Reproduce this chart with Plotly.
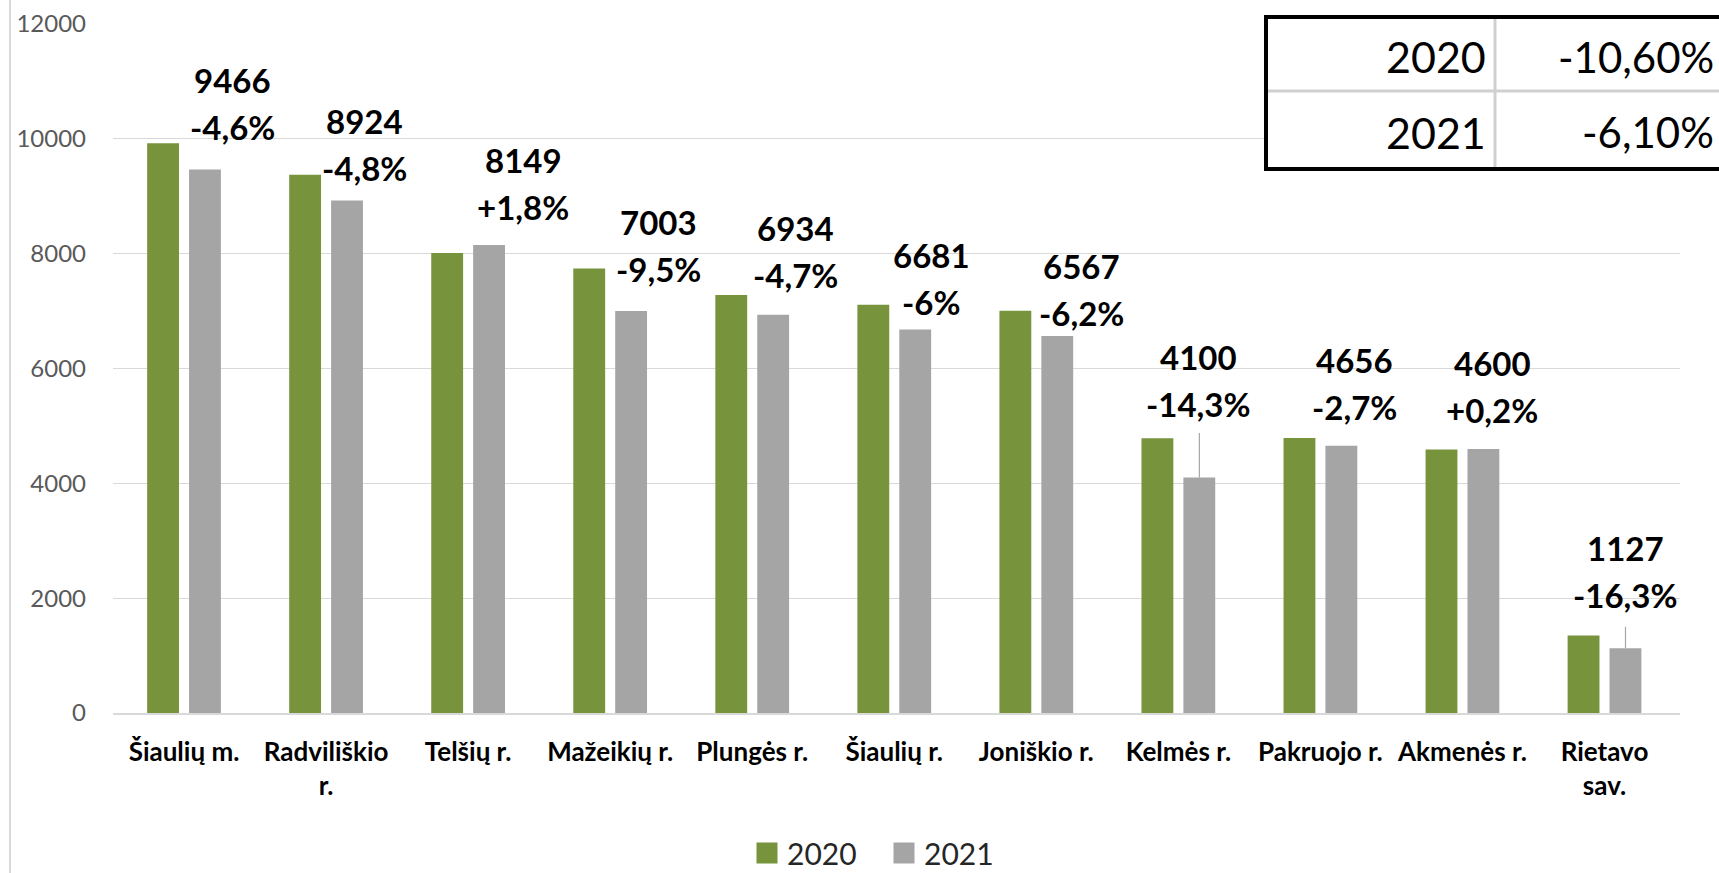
import plotly.graph_objects as go

# ---------------- data ----------------
categories = ["Šiaulių m.", "Radviliškio<br>r.", "Telšių r.", "Mažeikių r.", "Plungės r.",
              "Šiaulių r.", "Joniškio r.", "Kelmės r.", "Pakruojo r.", "Akmenės r.", "Rietavo<br>sav."]
series_names = ["2020", "2021"]
values_2020 = [9925, 9375, 8010, 7740, 7280, 7110, 7005, 4785, 4790, 4590, 1350]
values_2021 = [9466, 8924, 8149, 7003, 6934, 6681, 6567, 4100, 4656, 4600, 1127]
change_labels = ["-4,6%", "-4,8%", "+1,8%", "-9,5%", "-4,7%", "-6%", "-6,2%",
                 "-14,3%", "-2,7%", "+0,2%", "-16,3%"]
table_years = ["2020", "2021"]
table_changes = ["-10,60%", "-6,10%"]
y_ticks = [0, 2000, 4000, 6000, 8000, 10000, 12000]

# ---------------- styling ----------------
GREEN = "#77933C"
GRAY = "#A5A5A5"
FONT = "Lato"
W, H = 1719, 873
ML, MR, MT, MB = 113, 39, 24, 160
PW, PH = W - ML - MR, H - MT - MB

# label offsets (px) of the first label line, relative to the 2021 bar top centre
label_dx = [27, 17, 34, 27, 22, 16, 24, -1, 13, 9, 0]
label_dy = [-89, -80, -85, -89, -87, -74, -70, -121, -86, -86, -100]
LINE_GAP = 47
GRAY_SHIFT = 21  # px from category centre to 2021 bar centre
leader_len = {7: 46, 10: 23}


def px_x(p):
    return (p - ML) / PW


def px_y(p):
    return (H - MB - p) / PH


fig = go.Figure()
fig.add_trace(go.Bar(x=categories, y=values_2020, name=series_names[0],
                     marker=dict(color=GREEN, line=dict(width=0)), showlegend=False))
fig.add_trace(go.Bar(x=categories, y=values_2021, name=series_names[1],
                     marker=dict(color=GRAY, line=dict(width=0)), showlegend=False))
# legend entries with larger square symbols
for nm, col in zip(series_names, [GREEN, GRAY]):
    fig.add_trace(go.Scatter(x=[None], y=[None], mode="markers", name=nm,
                             marker=dict(symbol="square", size=16, color=col,
                                         line=dict(color=col, width=5)),
                             hoverinfo="skip"))

annotations = []
shapes = []
for i, cat in enumerate(categories):
    v = values_2021[i]
    annotations.append(dict(x=cat, y=v, xref="x", yref="y", text=f"{v}", showarrow=False,
                            xshift=GRAY_SHIFT + label_dx[i], yshift=-label_dy[i],
                            font=dict(family=FONT, size=33, color="#000000", weight="bold"),
                            xanchor="center", yanchor="middle"))
    annotations.append(dict(x=cat, y=v, xref="x", yref="y", text=change_labels[i], showarrow=False,
                            xshift=GRAY_SHIFT + label_dx[i], yshift=-(label_dy[i] + LINE_GAP),
                            font=dict(family=FONT, size=33, color="#000000", weight="bold"),
                            xanchor="center", yanchor="middle"))
    if i in leader_len:
        annotations.append(dict(x=cat, y=v, xref="x", yref="y", text="", showarrow=True,
                                xshift=GRAY_SHIFT, ax=0, ay=-leader_len[i], axref="pixel", ayref="pixel",
                                arrowhead=0, arrowwidth=1.2, arrowcolor="#A6A6A6", standoff=0))

# summary table (top right)
tx0, tx1 = px_x(1266), px_x(1735)
ty0, ty1 = px_y(169), px_y(17)
shapes.append(dict(type="rect", xref="paper", yref="paper", x0=tx0, x1=tx1, y0=ty0, y1=ty1,
                   fillcolor="white", line=dict(color="black", width=4), layer="above"))
shapes.append(dict(type="line", xref="paper", yref="paper", x0=px_x(1268), x1=tx1,
                   y0=px_y(91), y1=px_y(91), line=dict(color="#D0D0D0", width=3), layer="above"))
shapes.append(dict(type="line", xref="paper", yref="paper", x0=px_x(1495), x1=px_x(1495),
                   y0=px_y(167), y1=px_y(19), line=dict(color="#D0D0D0", width=3), layer="above"))
for yr, ch, yc in zip(table_years, table_changes, [57, 132]):
    annotations.append(dict(x=px_x(1488), y=px_y(yc), xref="paper", yref="paper", text=yr,
                            showarrow=False, xanchor="right", yanchor="middle",
                            font=dict(family=FONT, size=43, color="#000000")))
    annotations.append(dict(x=px_x(1716), y=px_y(yc), xref="paper", yref="paper", text=ch,
                            showarrow=False, xanchor="right", yanchor="middle",
                            font=dict(family=FONT, size=42, color="#000000")))

# left border line of the chart frame
shapes.append(dict(type="line", xref="paper", yref="paper", x0=px_x(10), x1=px_x(10),
                   y0=px_y(H + 5), y1=px_y(-5), line=dict(color="#D9D9D9", width=2)))

fig.update_layout(
    width=W, height=H,
    margin=dict(l=ML, r=MR, t=MT, b=MB, autoexpand=False),
    paper_bgcolor="white", plot_bgcolor="white",
    barmode="group", bargap=0.41, bargroupgap=0.24,
    font=dict(family=FONT),
    xaxis=dict(type="category", tickfont=dict(family=FONT, size=26, color="#000000", weight="bold"),
               showgrid=False, showline=True, linecolor="#D9D9D9", linewidth=1.5,
               ticks="", ticklabelstandoff=15, fixedrange=True),
    yaxis=dict(range=[0, 12000], tickvals=y_ticks, ticktext=[str(t) for t in y_ticks],
               showgrid=True, gridcolor="#D9D9D9", gridwidth=1.3,
               zeroline=False, showline=False, ticks="",
               tickfont=dict(family=FONT, size=24, color="#595959"), ticklabelstandoff=26),
    legend=dict(orientation="h", x=px_x(884), xanchor="center", y=px_y(853), yanchor="middle",
                font=dict(family=FONT, size=30, color="#262626"), entrywidth=92,
                bgcolor="rgba(0,0,0,0)"),
    annotations=annotations,
    shapes=shapes,
)

fig.write_html("out.html", config={"displayModeBar": False},
               post_script="document.body.style.margin='0';document.body.style.overflow='hidden';")
